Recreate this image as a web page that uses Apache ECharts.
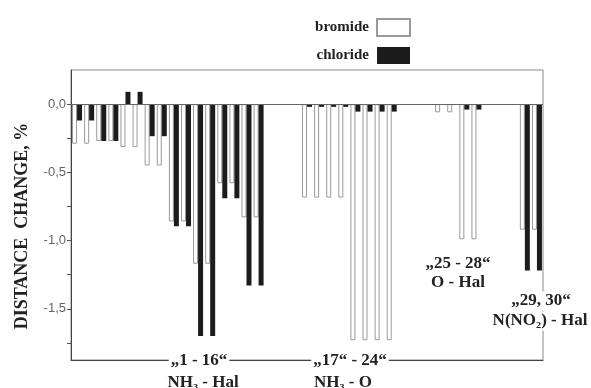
<!DOCTYPE html>
<html>
<head>
<meta charset="utf-8">
<script src="https://cdn.jsdelivr.net/npm/echarts@6/dist/echarts.min.js"></script>
<style>
  html, body { margin: 0; padding: 0; background: #fff; }
  #chart { width: 591px; height: 388px; }
</style>
</head>
<body>
<div id="chart"></div>
<script>
// compounds 1-30, with empty slots between the groups
const categories = [
  '1', '2', '3', '4', '5', '6', '7', '8', '9', '10', '11', '12', '13', '14', '15', '16',
  'gap1', 'gap2', 'gap3',
  '17', '18', '19', '20', '21', '22', '23', '24',
  'gap4', 'gap5', 'gap6',
  '25', '26', '27', '28',
  'gap7', 'gap8', 'gap9',
  '29', '30'
];

const bromide = [
  -0.29, -0.29, -0.27, -0.27, -0.315, -0.315, -0.45, -0.45,
  -0.86, -0.86, -1.17, -1.17, -0.58, -0.58, -0.83, -0.83,
  null, null, null,
  -0.685, -0.685, -0.685, -0.685, -1.73, -1.73, -1.73, -1.73,
  null, null, null,
  -0.06, -0.06, -0.99, -0.99,
  null, null, null,
  -0.92, -0.92
];

const chloride = [
  -0.12, -0.12, -0.27, -0.27, 0.09, 0.09, -0.235, -0.235,
  -0.895, -0.895, -1.70, -1.70, -0.69, -0.69, -1.33, -1.33,
  null, null, null,
  -0.02, -0.02, -0.02, -0.02, -0.055, -0.055, -0.055, -0.055,
  null, null, null,
  0, 0, -0.04, -0.04,
  null, null, null,
  -1.22, -1.22
];

const yTicks = [-1.75, -1.5, -1.25, -1.0, -0.75, -0.5, -0.25, 0];
const yLabels = [-1.5, -1.0, -0.5, 0];

const serif = '"Liberation Serif", "DejaVu Serif", serif';

// group captions under / beside the bars
const groupLabels = [
  { text: '\u201E1 - 16\u201C', x: 199, y: 361 },
  { text: 'NH\u2083 - Hal', x: 203, y: 383 },
  { text: '\u201E17\u201C - 24\u201C', x: 350, y: 361 },
  { text: 'NH\u2083 - O', x: 343, y: 383 },
  { text: '\u201E25 - 28\u201C', x: 458, y: 264 },
  { text: 'O - Hal', x: 458, y: 283 },
  { text: '\u201E29, 30\u201C', x: 541, y: 301 },
  { text: 'N(NO\u2082) - Hal', x: 540, y: 321 }
];

const chart = echarts.init(document.getElementById('chart'));

const option = {
  animation: false,
  backgroundColor: '#fff',
  grid: {
    left: 71, right: 48, top: 70, bottom: 28,
    show: true, borderColor: '#8a8a8a', borderWidth: 1
  },
  legend: {
    data: ['bromide', 'chloride'],
    icon: 'rect',
    orient: 'vertical',
    right: 175,
    top: 13,
    align: 'right',
    itemWidth: 33,
    itemHeight: 17,
    itemGap: 10,
    textStyle: { fontFamily: serif, fontWeight: 'bold', fontSize: 15, color: '#222', padding: [0, 3, 0, 0] }
  },
  xAxis: {
    type: 'category',
    data: categories,
    axisLine: { onZero: false, lineStyle: { color: '#444', width: 1 } },
    axisTick: { show: false },
    axisLabel: { show: false },
    splitLine: { show: false }
  },
  yAxis: {
    type: 'value',
    min: -1.875,
    max: 0.25,
    axisLine: { show: true, lineStyle: { color: '#444', width: 1 } },
    axisTick: { show: true, length: 4, customValues: yTicks, lineStyle: { color: '#555' } },
    axisLabel: {
      customValues: yLabels,
      margin: 5,
      fontFamily: 'Arial, "Liberation Sans", sans-serif',
      fontSize: 13,
      color: '#666',
      formatter: v => v.toFixed(1).replace('.', ',')
    },
    splitLine: { show: false }
  },
  series: [
    {
      name: 'bromide',
      type: 'bar',
      data: bromide,
      barWidth: 5,
      barGap: '0%',
      itemStyle: { color: '#fff', borderColor: '#999', borderWidth: 1 },
      markLine: {
        silent: true,
        symbol: 'none',
        label: { show: false },
        lineStyle: { color: '#666', type: 'solid', width: 1 },
        data: [{ yAxis: 0 }]
      }
    },
    {
      name: 'chloride',
      type: 'bar',
      data: chloride,
      barWidth: 5,
      itemStyle: { color: '#1c1c1c' }
    }
  ],
  graphic: [
    {
      type: 'text',
      x: 22, y: 226,
      rotation: Math.PI / 2,
      style: {
        text: 'DISTANCE  CHANGE, %',
        font: 'bold 18px ' + serif,
        fill: '#222',
        align: 'center',
        verticalAlign: 'middle'
      }
    }
  ].concat(groupLabels.map(g => ({
    type: 'text',
    x: g.x, y: g.y,
    z: 100,
    style: {
      text: g.text,
      font: 'bold 17px ' + serif,
      fill: '#222',
      align: 'center',
      verticalAlign: 'middle',
      backgroundColor: '#fff',
      padding: [1, 2]
    }
  })))
};

chart.setOption(option);
</script>
</body>
</html>
